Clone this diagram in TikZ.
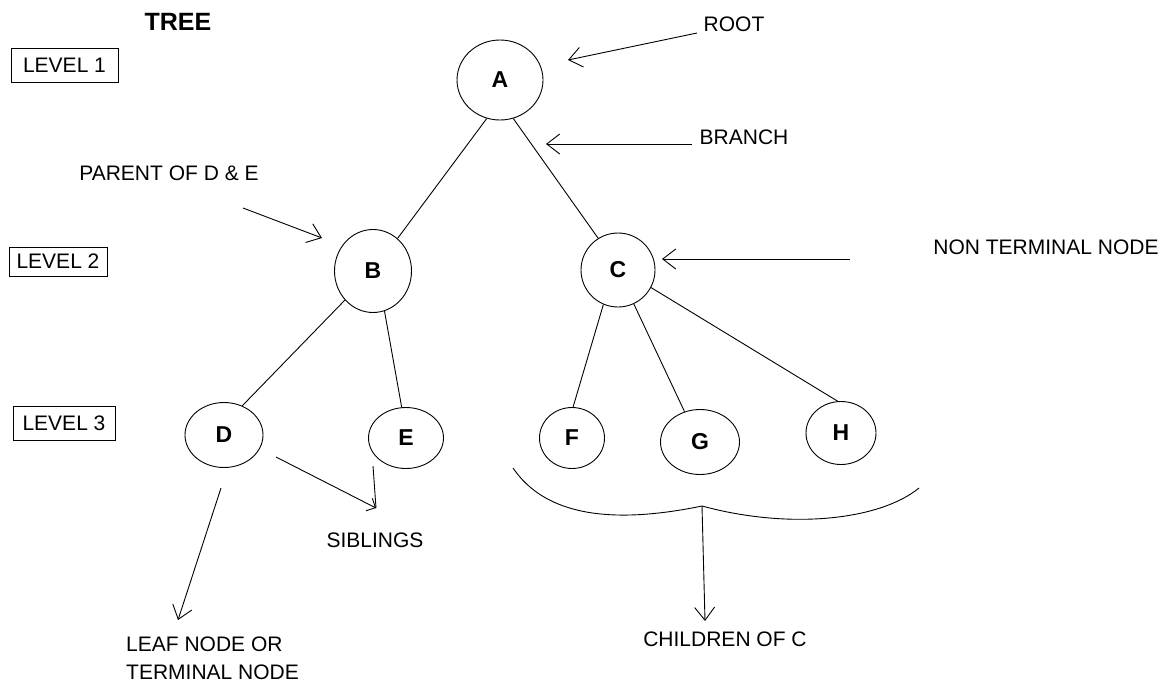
\documentclass[tikz,border=0pt]{standalone}
\usepackage{fontspec}
\setmainfont{Liberation Sans}
\usetikzlibrary{shapes.geometric,arrows.meta}
\begin{document}
\begin{tikzpicture}[x=1pt,y=-1pt,
  treenode/.style={draw,ellipse,inner sep=0pt,line width=0.9pt,
    font=\fontsize{23}{27}\selectfont\bfseries},
  lbl/.style={inner sep=0pt,font=\fontsize{21}{28}\selectfont},
  levelbox/.style={draw,line width=1pt,inner sep=0pt,
    font=\fontsize{21}{25}\selectfont},
  edge/.style={line width=0.9pt},
  pointer/.style={line width=0.9pt,-{Straight Barb[length=13pt,width=20pt,line width=0.9pt]}},
  smallpointer/.style={line width=0.9pt,-{Straight Barb[length=7pt,width=14pt,line width=0.9pt]}}
]
\useasboundingbox (0,0) rectangle (1166,683);

% title and level markers
\node[inner sep=0pt,font=\fontsize{25}{30}\selectfont\bfseries] (title) at (178,22) {TREE};
\node[levelbox,minimum width=107pt,minimum height=34pt] (lv1) at (64.5,65) {LEVEL 1};
\node[levelbox,minimum width=98pt,minimum height=29pt] (lv2) at (58,261.5) {LEVEL 2};
\node[levelbox,minimum width=102pt,minimum height=34pt] (lv3) at (64,423) {LEVEL 3};

% tree nodes
\node[treenode,minimum width=86pt,minimum height=80pt] (A) at (500,80) {A};
\node[treenode,minimum width=77pt,minimum height=83pt] (B) at (373,271) {B};
\node[treenode,minimum width=74pt,minimum height=74pt] (C) at (618,270) {C};
\node[treenode,minimum width=78pt,minimum height=65pt] (D) at (224,435) {D};
\node[treenode,minimum width=75pt,minimum height=61pt] (E) at (406,438) {E};
\node[treenode,minimum width=65pt,minimum height=61pt] (F) at (572,438) {F};
\node[treenode,minimum width=79pt,minimum height=65pt] (G) at (700,442) {G};
\node[treenode,minimum width=70pt,minimum height=63pt] (H) at (841,433) {H};

% branches
\draw[edge] (A.251) -- (B.53);
\draw[edge] (A.289) -- (C.122);
\draw[edge] (B.226) -- (D.58);
\draw[edge] (B.286) -- (E.98);
\draw[edge] (C.247) -- (F.88);
\draw[edge] (C.295) -- (G.117);
\draw[edge] (C.332) -- (H.96);

% annotation labels
\node[lbl] (root) at (734,24) {ROOT};
\node[lbl] (branch) at (744,137) {BRANCH};
\node[lbl] (parent) at (169,173) {PARENT OF D \& E};
\node[lbl] (nonterm) at (1046,247) {NON TERMINAL NODE};
\node[lbl] (sib) at (375,540) {SIBLINGS};
\node[lbl,align=left,anchor=north west] (leaf) at (126,637) {LEAF NODE OR\\TERMINAL NODE};
\node[lbl] (child) at (725,639) {CHILDREN OF C};

% arrow ends
\coordinate (rootS) at (697,33);   \coordinate (rootE) at (568,60);
\coordinate (brS) at (692,144);    \coordinate (brE) at (546,144);
\coordinate (parS) at (243,208);   \coordinate (parE) at (322,238);
\coordinate (ntS) at (850,259);    \coordinate (ntE) at (662,259);
\coordinate (leafS) at (221,488);  \coordinate (leafE) at (178,620);
\coordinate (sibD) at (276,457);   \coordinate (sibE) at (373,466);
\coordinate (sibT) at (376,508);
\coordinate (brace) at (702,506);  \coordinate (childE) at (705,621);

\draw[pointer] (rootS) -- (rootE);
\draw[pointer] (brS) -- (brE);
\draw[pointer] (parS) -- (parE);
\draw[pointer] (ntS) -- (ntE);
\draw[pointer] (leafS) -- (leafE);
\draw[smallpointer] (sibD) -- (sibT);
\draw[edge] (sibE) -- (sibT);
\draw[pointer] (brace) -- (childE);

% curly brace grouping the children of C
\draw[edge] (513,468) .. controls (545,515) and (610,525) .. (brace)
            .. controls (790,530) and (880,520) .. (919,488);
\end{tikzpicture}
\end{document}
